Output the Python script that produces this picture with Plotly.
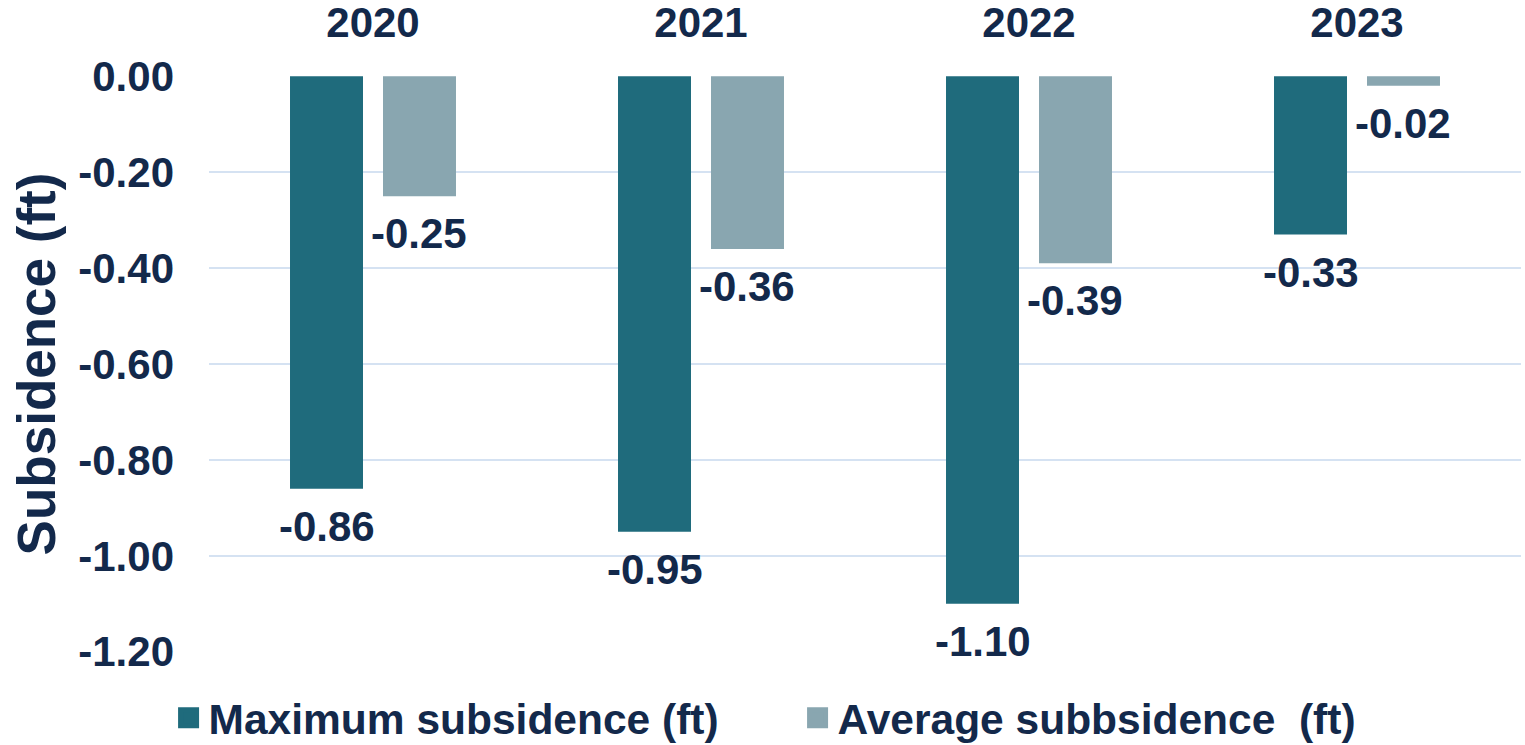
import plotly.graph_objects as go

years = ["2020", "2021", "2022", "2023"]
max_sub = [-0.86, -0.95, -1.10, -0.33]
avg_sub = [-0.25, -0.36, -0.39, -0.02]
y_ticks = [0.0, -0.2, -0.4, -0.6, -0.8, -1.0, -1.2]
y_tick_text = ["0.00", "-0.20", "-0.40", "-0.60", "-0.80", "-1.00", "-1.20"]

series_names = ["Maximum subsidence (ft)", "Average subbsidence  (ft)"]
colors = ["#1F6B7C", "#89A6B0"]
text_color = "#13294B"
font_family = "Liberation Sans, Arial, sans-serif"

W, H = 1525, 745
ML, MR, MT, MB = 209, 4, 76, 93
BARGAP = 0.433
BARGROUPGAP = 0.215

fig = go.Figure()
for name, vals, col in zip(series_names, [max_sub, avg_sub], colors):
    fig.add_trace(go.Bar(x=years, y=vals, name=name, showlegend=False,
                         marker=dict(color=col, line=dict(width=0))))
for name, col in zip(series_names, colors):
    fig.add_trace(go.Scatter(x=[None], y=[None], mode="markers", name=name,
                             marker=dict(symbol="square", size=16, color=col,
                                         line=dict(width=5, color=col))))

cat_px = (W - ML - MR) / len(years)
slot_px = cat_px * (1 - BARGAP) / 2
annotations = []
for i, vals in enumerate([max_sub, avg_sub]):
    shift = (i - 0.5) * slot_px
    for k, v in enumerate(vals):
        annotations.append(dict(
            x=k, y=v, xref="x", yref="y", text=f"{v:.2f}", showarrow=False,
            xshift=shift, yshift=-12, yanchor="top", xanchor="center",
            font=dict(family=font_family, size=42, color=text_color, weight="bold"),
        ))

fig.update_layout(
    width=W, height=H,
    margin=dict(l=ML, r=MR, t=MT, b=MB),
    paper_bgcolor="white", plot_bgcolor="white",
    barmode="group", bargap=BARGAP, bargroupgap=BARGROUPGAP,
    font=dict(family=font_family, color=text_color),
    annotations=annotations,
    legend=dict(
        orientation="h", xref="container", yref="container",
        x=0.523, xanchor="center", y=0.036, yanchor="middle",
        font=dict(family=font_family, size=42.5, color=text_color, weight="bold"),
        entrywidth=584,
    ),
    showlegend=True,
    xaxis=dict(
        type="category", categoryorder="array", categoryarray=years,
        range=[-0.5, len(years) - 0.5], autorange=False,
        side="top", showgrid=False, showline=False, ticks="",
        tickfont=dict(family=font_family, size=42, color=text_color, weight="bold"),
        ticklabelstandoff=30, automargin=False,
    ),
    yaxis=dict(
        range=[-1.2005, 0.0005], autorange=False, tickvals=y_ticks, ticktext=y_tick_text,
        showgrid=True, gridcolor="#D5E2F2", gridwidth=2, zeroline=False, showline=False, ticks="",
        tickfont=dict(family=font_family, size=42, color=text_color, weight="bold"),
        ticklabelstandoff=34,
        title=dict(text="Subsidence (ft)", standoff=5,
                   font=dict(family=font_family, size=53, color=text_color, weight="bold")),
        automargin=False,
    ),
)

fig.write_html("out.html")
